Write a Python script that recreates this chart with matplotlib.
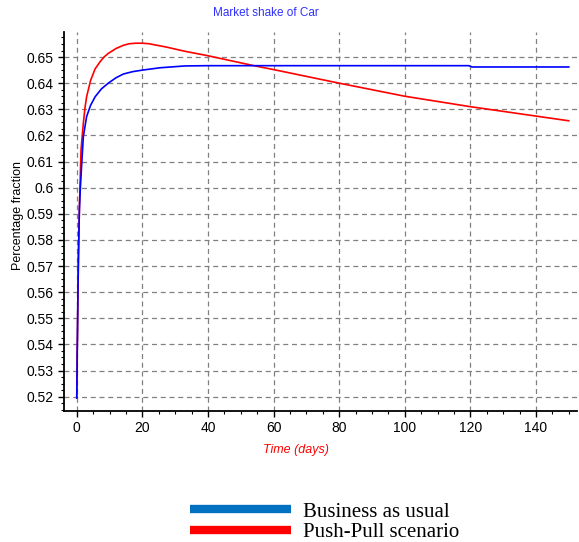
import matplotlib
matplotlib.use("Agg")
import matplotlib.pyplot as plt
from matplotlib.lines import Line2D
from matplotlib.ticker import MultipleLocator

# =========================================
# DATA
# =========================================

t_bau = [0, 0.1, 0.3, 0.5, 0.8, 1.1, 1.5, 2.0, 3.0, 4.2, 5.6, 7.5, 9.6,
         12, 14.2, 17, 20, 25.4, 33, 40, 60, 80, 100, 119.5, 120.5, 140,
         150]
y_bau = [0.5195, 0.531, 0.555, 0.574, 0.592, 0.600, 0.609, 0.6195, 0.6272,
         0.6315, 0.6348, 0.6378, 0.640, 0.6421, 0.6435, 0.6444, 0.645,
         0.6459, 0.6466, 0.6467, 0.6467, 0.6467, 0.6467, 0.6467, 0.6462,
         0.6462, 0.6462]

t_pp = [0, 0.1, 0.2, 0.5, 0.7, 0.9, 1.3, 1.6, 2.0, 2.5, 3.0, 4.2, 5.6,
        7.1, 8.3, 9.6, 12, 14.2, 16, 18, 20, 22, 27.4, 33, 40, 54, 60, 80,
        100, 120, 140, 150]
y_pp = [0.5195, 0.537, 0.5424, 0.5714, 0.5858, 0.5971, 0.6144, 0.619,
        0.6246, 0.6305, 0.6348, 0.641, 0.6455, 0.6482, 0.6500, 0.6514,
        0.6533, 0.6545, 0.6551, 0.6553, 0.6553, 0.6551, 0.6538, 0.6522,
        0.6505, 0.6467, 0.6452, 0.640, 0.635, 0.631, 0.6274, 0.6256]

x_ticks = [0, 20, 40, 60, 80, 100, 120, 140]
y_ticks = [0.52, 0.53, 0.54, 0.55, 0.56, 0.57, 0.58, 0.59, 0.60, 0.61,
           0.62, 0.63, 0.64, 0.65]
y_tick_labels = ["0.52", "0.53", "0.54", "0.55", "0.56", "0.57", "0.58",
                 "0.59", "0.6", "0.61", "0.62", "0.63", "0.64", "0.65"]

# =========================================
# FIGURE
# =========================================

plt.rcParams["font.family"] = ["Liberation Sans", "DejaVu Sans"]

fig = plt.figure(figsize=(5.79, 5.42), dpi=100)
ax = fig.add_axes([0.1105, 0.2422, 0.886, 0.6988])

ax.plot(t_pp, y_pp, color="#ff0000", lw=1.2, zorder=3)
ax.plot(t_bau, y_bau, color="#0000ff", lw=1.2, zorder=4)

ax.set_xlim(-3.9, 152.5)
ax.set_ylim(0.5146, 0.6596)

ax.set_xticks(x_ticks)
ax.set_yticks(y_ticks)
ax.set_yticklabels(y_tick_labels)
ax.xaxis.set_minor_locator(MultipleLocator(5))
ax.yaxis.set_minor_locator(MultipleLocator(0.0025))
ax.tick_params(which="major", length=4, width=1, labelsize=10, color="black")
ax.tick_params(which="minor", length=2.5, width=0.8, color="black")

ax.grid(True, which="major", color="#808080", linestyle=(0, (4, 3)), lw=0.9)

for side in ["top", "right"]:
    ax.spines[side].set_visible(False)
for side in ["left", "bottom"]:
    ax.spines[side].set_linewidth(1.3)

# =========================================
# TEXT
# =========================================

fig.text(266 / 579, 1 - 13 / 542, "Market shake of Car", color="#3030ff",
         fontsize=8.5, ha="center", va="center")
fig.text(18 / 579, 1 - 215 / 542, "Percentage fraction", rotation=90,
         fontsize=9, ha="center", va="center")
fig.text(296 / 579, 1 - 450 / 542, "Time (days)", color="#ff0000",
         fontsize=9, style="italic", ha="center", va="center")

# =========================================
# LEGEND
# =========================================

handles = [
    Line2D([], [], color="#0070c0", lw=6, solid_capstyle="butt"),
    Line2D([], [], color="#ff0000", lw=6, solid_capstyle="butt"),
]
fig.legend(handles, ["Business as usual", "Push-Pull scenario"],
           loc="upper left", bbox_to_anchor=(190 / 579, 1 - 502 / 542),
           frameon=False, handlelength=4.85, handletextpad=0.58,
           labelspacing=0.05, borderpad=0, borderaxespad=0,
           prop={"family": "Liberation Serif", "size": 15})

fig.savefig("out.png", dpi=100)
